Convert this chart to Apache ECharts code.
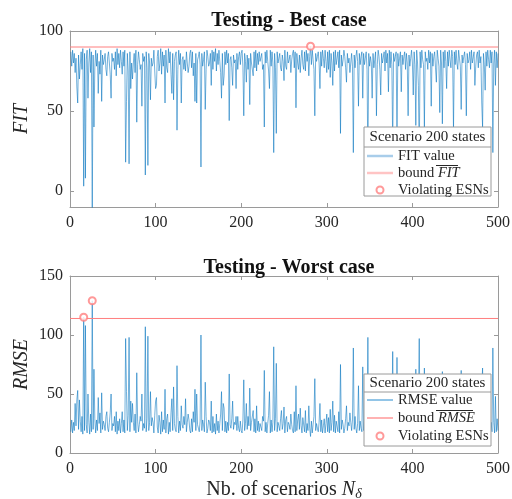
<!DOCTYPE html>
<html><head><meta charset="utf-8">
<script src="https://cdn.jsdelivr.net/npm/echarts@6/dist/echarts.min.js"></script>
<style>html,body{margin:0;padding:0;background:#fff}#c{width:512px;height:499px}</style>
</head><body><div id="c"></div>
<script>
// FIT value per scenario (best case), scenarios 1..500
const fitValues = [
87,78,88,80,86,74,83,65,55,85,70,79,87,76,89,3,86,8,82,88,
58,80,89,74,87,-15,85,40,77,88,78,86,61,81,73,88,56,85,79,82,
86,76,72,84,87,80,73,58,86,81,83,76,87,72,89,79,86,77,88,81,
73,87,78,88,18,56,86,75,17,87,64,80,70,80,86,74,88,43,79,87,
82,76,79,53,86,81,84,10,87,77,16,86,80,57,83,78,80,88,75,64,
66,84,88,75,80,89,73,87,78,85,55,88,77,74,89,80,87,73,61,86,
57,81,85,87,38,76,88,79,86,55,82,84,76,82,75,87,80,74,78,86,
88,77,87,72,80,56,86,55,82,84,87,79,15,86,78,82,87,51,76,88,
84,78,80,86,66,88,76,87,81,89,75,86,79,88,81,74,58,86,66,72,
87,79,88,80,86,44,82,84,77,66,85,80,82,64,86,76,84,87,79,86,
88,78,47,86,81,68,85,76,83,54,86,80,80,72,87,77,88,75,86,79,
87,81,82,86,76,79,40,87,80,88,81,75,64,88,78,87,80,24,86,77,
36,87,80,83,86,77,75,85,81,69,88,78,76,87,80,82,85,74,82,86,
88,77,87,52,86,80,76,85,74,83,88,79,76,87,75,88,81,86,72,84,
90.5,79,88,82,76,47,86,81,84,87,80,64,87,78,88,83,77,88,81,74,
87,76,88,71,86,80,66,87,75,88,79,79,87,77,88,36,85,78,82,88,
84,77,68,86,80,83,74,80,86,78,24,85,77,84,88,81,53,86,79,84,
87,58,86,79,83,87,76,17,86,78,84,80,58,86,77,82,87,47,79,88,
84,76,60,86,80,81,87,75,88,80,86,62,88,77,87,79,28,86,81,84,
87,32,86,78,83,87,62,85,79,84,87,76,86,80,47,85,78,83,88,80,
60,87,79,41,88,80,66,18,87,77,88,82,79,40,87,81,83,76,88,80,
87,53,86,78,84,87,77,68,88,83,78,49,88,80,42,87,77,88,81,64,
87,78,88,82,77,88,84,38,87,79,88,80,76,88,83,78,51,85,80,84,
87,79,47,86,80,82,87,76,88,80,81,87,66,78,85,87,77,88,80,84,
55,40,86,79,63,87,78,88,82,77,88,80,87,24,80,88,66,87,77,86
];
// RMSE value per scenario (worst case), scenarios 1..500
const rmseValues = [
18,28,17,26,19,42,23,45,53,20,45,27,18,31,16,115,19,108,24,17,
50,26,16,33,18,129,20,71,29,17,28,19,47,25,34,17,51,20,27,24,
19,31,35,21,18,26,34,50,19,25,23,31,18,35,16,27,19,29,17,25,
35,18,28,17,97,52,19,32,98,18,44,26,42,26,19,33,17,68,27,18,
24,31,27,50,19,25,21,107,18,29,99,19,26,52,23,30,26,17,32,44,
47,22,17,32,26,16,35,18,28,20,54,17,29,33,16,26,18,34,46,19,
56,25,20,18,74,31,17,27,19,40,24,21,31,24,46,18,26,33,28,19,
17,29,18,35,26,54,19,50,24,21,18,27,100,19,28,24,18,60,31,17,
21,28,26,19,44,17,31,18,25,16,33,19,27,17,25,33,52,19,42,38,
18,27,17,26,19,67,24,21,29,44,20,26,24,31,19,31,21,18,27,19,
17,28,62,19,25,42,20,31,23,55,19,26,26,36,18,29,17,40,19,27,
18,25,24,19,31,27,70,18,26,17,25,32,52,17,28,18,26,90,19,29,
76,18,26,23,19,29,36,20,25,39,17,28,31,18,26,24,20,33,24,19,
17,35,18,57,19,28,33,20,38,23,17,30,31,18,36,17,25,19,40,21,
14,27,17,24,31,63,19,25,21,18,26,42,18,28,17,23,29,17,25,33,
18,30,17,37,19,26,44,18,32,17,27,27,18,35,17,75,20,28,24,17,
21,29,40,19,26,23,34,26,19,28,89,20,31,21,17,25,57,19,27,21,
18,73,19,27,23,18,31,98,19,30,21,26,50,19,29,24,18,45,27,17,
21,31,49,19,26,25,18,32,17,26,19,47,17,29,18,27,86,19,25,21,
18,81,19,28,23,18,56,20,27,21,18,31,19,26,64,20,28,23,17,26,
49,18,27,71,17,26,42,97,18,29,17,24,27,72,18,25,23,31,17,26,
18,56,19,28,21,18,29,40,17,23,28,62,17,26,69,18,29,17,25,44,
18,28,17,24,29,17,21,56,18,27,17,26,31,17,23,28,70,20,26,21,
18,27,50,19,26,24,18,31,17,26,25,18,42,28,20,18,29,17,26,21,
55,72,19,27,46,18,28,17,24,29,17,26,18,89,26,17,48,18,29,19
];
const fitBound = 90;
const rmseBound = 114;
const xRange = [0, 500];
const fitRange = [-10, 100];
const rmseRange = [0, 150];
const fitTicks = [0, 50, 100];
const rmseTicks = [0, 50, 100, 150];
const titles = ['Testing - Best case', 'Testing - Worst case'];
const legendHeader = 'Scenario 200 states';

const serif = 'Liberation Serif';
const axisColor = '#9a9a9a';
const textColor = '#262626';
const lineColor = 'rgba(0,114,189,0.62)';
const redColor = '#ff7f7f';

const fitData = fitValues.map((v, i) => [i + 1, v]);
const rmseData = rmseValues.map((v, i) => [i + 1, v]);
const fitViol = fitData.filter(d => d[1] > fitBound);
const rmseViol = rmseData.filter(d => d[1] > rmseBound);

function xAx(g, pos, showLabel, name) {
  return {
    type: 'value', gridIndex: g, position: pos, min: xRange[0], max: xRange[1], interval: 100,
    axisLine: { show: true, onZero: false, lineStyle: { color: axisColor, width: 1 } },
    axisTick: { show: true, inside: true, length: 4, lineStyle: { color: axisColor } },
    axisLabel: { show: showLabel, color: textColor, fontFamily: serif, fontSize: 16, margin: 8 },
    splitLine: { show: false },
    name: name || '', nameLocation: 'middle', nameGap: 26, nameMoveOverlap: false,
    nameTextStyle: {
      color: textColor, fontFamily: serif, fontSize: 20,
      rich: {
        n: { fontFamily: serif, fontStyle: 'italic', fontSize: 20, color: textColor },
        s: { fontFamily: serif, fontStyle: 'italic', fontSize: 14, color: textColor, verticalAlign: 'bottom', padding: [8, 0, 0, 0] }
      }
    }
  };
}
function yAx(g, pos, range, ticks, showLabel, name) {
  return {
    type: 'value', gridIndex: g, position: pos, min: range[0], max: range[1],
    axisLine: { show: true, onZero: false, lineStyle: { color: axisColor, width: 1 } },
    axisTick: { show: true, inside: true, length: 4, customValues: ticks, lineStyle: { color: axisColor } },
    axisLabel: { show: showLabel, customValues: ticks, color: textColor, fontFamily: serif, fontSize: 16, margin: 7 },
    splitLine: { show: false },
    name: name || '', nameLocation: 'middle', nameGap: 38, nameMoveOverlap: false,
    nameTextStyle: { color: textColor, fontFamily: serif, fontStyle: 'italic', fontSize: 20 }
  };
}

const legendRich = {
  t: { fontFamily: serif, fontSize: 14.5, color: textColor },
  i: { fontFamily: serif, fontStyle: 'italic', fontSize: 14.5, color: textColor }
};
function legendFmt(name) {
  if (name === 'bound FIT') return '{t|bound }{i|FIT}';
  if (name === 'bound RMSE') return '{t|bound }{i|RMSE}';
  return '{t|' + name + '}';
}
function barIcon(h) { return 'path://M0,0H26V' + h + 'H0Z'; }
function mkLegend(top, names, lineH, valueIcon, boundIcon) {
  return {
    orient: 'vertical', left: 367, top: top, padding: 0, z: 120,
    itemWidth: 26, itemHeight: 7, itemGap: 0, itemTextGap: -2,
    selectedMode: false,
    formatter: legendFmt,
    textStyle: { fontFamily: serif, fontSize: 14.5, color: textColor, lineHeight: lineH, rich: legendRich },
    data: [
      { name: names[0], icon: barIcon(valueIcon.h), itemStyle: { color: valueIcon.color, borderWidth: 0 } },
      { name: names[1], icon: barIcon(boundIcon.h), itemStyle: { color: boundIcon.color, borderWidth: 0 } },
      { name: 'Violating ESNs', icon: 'emptyCircle', itemStyle: { color: redColor, borderColor: redColor, borderWidth: 1 } }
    ]
  };
}
function legendBox(x, y, w, h, sepY) {
  return [
    { type: 'rect', z: 100, shape: { x: x, y: y, width: w, height: h }, style: { fill: '#fff', stroke: '#9a9a9a', lineWidth: 1 } },
    { type: 'line', z: 101, shape: { x1: x, y1: sepY, x2: x + w, y2: sepY }, style: { stroke: '#9a9a9a', lineWidth: 1 } },
    { type: 'text', z: 101, x: x + w / 2, y: (y + sepY) / 2 + 0.5, style: { text: legendHeader, fontFamily: serif, fontSize: 15, fill: textColor, align: 'center', verticalAlign: 'middle' } }
  ];
}
function boundSeries(name, xi, yi, value) {
  return {
    name: name, type: 'line', xAxisIndex: xi, yAxisIndex: yi,
    data: xRange.map(x => [x, value]), symbol: 'none', silent: true,
    lineStyle: { color: redColor, width: 1 }, itemStyle: { color: redColor }, z: 3
  };
}

const option = {
  animation: false,
  backgroundColor: '#fff',
  title: [
    { text: titles[0], left: 284, top: 6, textAlign: 'center', textStyle: { fontFamily: serif, fontWeight: 'bold', fontSize: 20, color: '#111' } },
    { text: titles[1], left: 284, top: 253, textAlign: 'center', textStyle: { fontFamily: serif, fontWeight: 'bold', fontSize: 20, color: '#111' } }
  ],
  grid: [
    { left: 70, right: 14, top: 31, height: 176, outerBoundsMode: 'none', containLabel: false },
    { left: 70, right: 14, top: 276, height: 177, outerBoundsMode: 'none', containLabel: false }
  ],
  xAxis: [
    xAx(0, 'bottom', true),
    xAx(0, 'top', false),
    xAx(1, 'bottom', true, 'Nb. of scenarios {n|N}{s|δ}'),
    xAx(1, 'top', false)
  ],
  yAxis: [
    yAx(0, 'left', fitRange, fitTicks, true, 'FIT'),
    yAx(0, 'right', fitRange, fitTicks, false),
    yAx(1, 'left', rmseRange, rmseTicks, true, 'RMSE'),
    yAx(1, 'right', rmseRange, rmseTicks, false)
  ],
  legend: [
    mkLegend(147.5, ['FIT value', 'bound FIT'], 17, { color: '#a8cdea', h: 2.5 }, { color: '#ffc4c4', h: 2.5 }),
    mkLegend(391, ['RMSE value', 'bound RMSE'], 18, { color: '#4a9fd8', h: 1.2 }, { color: '#ff7f7f', h: 1.2 })
  ],
  graphic: [
    ...legendBox(364, 127, 127, 69, 147),
    ...legendBox(364, 374, 127, 72, 392),
    { type: 'line', z: 130, shape: { x1: 436, y1: 165.5, x2: 458, y2: 165.5 }, style: { stroke: textColor, lineWidth: 1 } },
    { type: 'line', z: 130, shape: { x1: 436, y1: 410.5, x2: 473, y2: 410.5 }, style: { stroke: textColor, lineWidth: 1 } }
  ],
  series: [
    { name: 'FIT value', type: 'line', xAxisIndex: 0, yAxisIndex: 0, data: fitData, symbol: 'none', lineStyle: { color: lineColor, width: 0.9 }, itemStyle: { color: lineColor }, z: 2 },
    boundSeries('bound FIT', 0, 0, fitBound),
    { name: 'Violating ESNs', type: 'scatter', xAxisIndex: 0, yAxisIndex: 0, data: fitViol, symbol: 'emptyCircle', symbolSize: 7, itemStyle: { color: redColor, borderColor: redColor, borderWidth: 1 }, z: 4 },
    { name: 'RMSE value', type: 'line', xAxisIndex: 2, yAxisIndex: 2, data: rmseData, symbol: 'none', lineStyle: { color: lineColor, width: 0.9 }, itemStyle: { color: lineColor }, z: 2 },
    boundSeries('bound RMSE', 2, 2, rmseBound),
    { name: 'Violating ESNs', type: 'scatter', xAxisIndex: 2, yAxisIndex: 2, data: rmseViol, symbol: 'emptyCircle', symbolSize: 7, itemStyle: { color: redColor, borderColor: redColor, borderWidth: 1 }, z: 4 }
  ]
};
const chart = echarts.init(document.getElementById('c'), null, { renderer: 'canvas' });
chart.setOption(option);
</script>
</body></html>
